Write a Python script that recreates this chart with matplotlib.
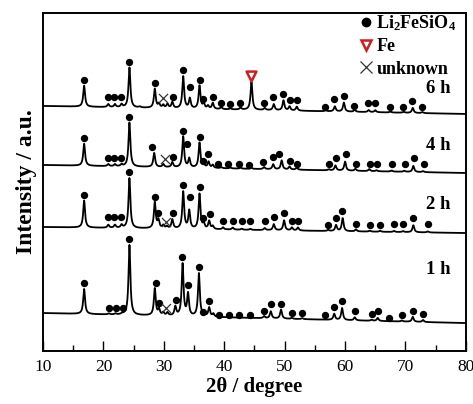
import numpy as np
import matplotlib
matplotlib.use("Agg")
import matplotlib.pyplot as plt
from matplotlib.lines import Line2D

plt.rcParams['font.family'] = ['Liberation Serif', 'DejaVu Serif']
plt.rcParams['mathtext.fontset'] = 'custom'
plt.rcParams['mathtext.rm'] = 'Liberation Serif:bold'
plt.rcParams['mathtext.bf'] = 'Liberation Serif:bold'
plt.rcParams['mathtext.it'] = 'Liberation Serif:bold:italic'

# samples, bottom to top
samples = ["1 h", "2 h", "4 h", "6 h"]
offsets = [91, 177, 239, 298]     # baseline at 10 deg
drops = [10, 6, 8, 8]              # baseline fall to 80 deg
label_y = [135, 200, 258, 315]

# peaks (2theta, height above baseline)
peaks_1h = [(16.8, 25), (20.9, 1), (22.0, 1), (23.1, 1), (24.3, 70), (28.5, 27),
            (29.2, 6), (29.9, 3), (30.6, 3), (31.9, 9), (33.1, 52), (34.0, 22),
            (35.8, 43), (36.6, 3), (37.5, 9), (38.2, 3), (46.6, 2), (47.7, 7),
            (49.4, 9), (51.2, 1), (52.9, 1), (58.2, 6), (59.5, 12), (61.6, 3),
            (64.4, 1), (65.4, 3), (69.4, 1), (71.2, 5), (72.9, 2)]
peaks_2h = [(16.8, 27), (20.8, 3), (21.9, 3), (23.0, 3), (24.3, 50), (28.5, 26),
            (29.1, 8), (29.9, 3), (30.5, 2), (31.4, 9), (33.2, 37), (34.2, 18),
            (35.9, 35), (36.6, 5), (37.5, 8), (38.1, 3), (39.8, 2), (41.4, 2),
            (42.9, 1), (44.3, 1), (46.7, 2), (48.2, 6), (49.9, 10), (51.2, 3),
            (52.2, 3), (57.2, 1), (58.5, 6), (59.6, 13), (61.8, 2), (64.1, 1),
            (65.8, 1), (68.1, 1), (69.6, 1), (71.3, 7), (73.7, 1)]
peaks_4h = [(16.8, 22), (20.8, 2), (21.9, 2), (23.0, 2), (24.3, 44), (28.4, 14),
            (29.9, 3), (31.4, 5), (33.2, 31), (34.2, 9), (35.9, 25), (36.6, 4),
            (37.4, 6), (38.1, 3), (39.5, 1), (41.0, 1), (42.7, 1), (44.5, 1),
            (46.6, 2), (48.1, 5), (49.5, 9), (50.8, 3), (52.0, 2), (57.3, 1),
            (58.4, 5), (60.0, 9), (61.7, 2), (64.0, 2), (65.2, 1), (67.7, 1),
            (69.8, 1), (71.3, 6), (72.9, 1)]
peaks_6h = [(16.8, 21), (20.8, 3), (21.9, 3), (23.0, 3), (24.3, 40), (26.0, 1),
            (28.5, 19), (29.2, 4), (29.9, 3), (30.6, 4), (31.4, 6), (33.2, 32),
            (34.3, 10), (35.9, 23), (36.6, 5), (37.3, 3), (38.1, 6), (39.5, 2),
            (41.0, 1), (42.7, 2), (44.5, 28), (46.7, 2), (48.2, 6), (49.8, 10),
            (50.8, 4), (52.0, 4), (56.8, 1), (58.3, 5), (59.8, 9), (61.6, 2),
            (63.9, 2), (65.0, 2), (67.5, 1), (69.7, 1), (71.2, 5), (72.8, 1)]
peaks = [peaks_1h, peaks_2h, peaks_4h, peaks_6h]

# Li2FeSiO4 markers (2theta, height above baseline)
dots_1h = [(16.8, 31), (20.9, 7), (22.1, 7), (23.2, 7), (24.2, 76), (28.7, 33),
           (29.2, 13), (32.0, 16), (33.0, 59), (34.0, 31), (35.8, 50), (36.5, 5),
           (37.5, 16), (39.1, 2), (40.8, 2), (42.5, 3), (44.2, 3), (46.6, 7),
           (47.7, 14), (49.4, 15), (51.2, 6), (52.9, 6), (56.7, 5), (58.2, 13),
           (59.5, 19), (61.6, 9), (64.4, 7), (65.4, 10), (67.3, 3), (69.4, 7),
           (71.2, 11), (72.9, 8)]
dots_2h = [(16.8, 33), (20.7, 11), (21.8, 11), (22.9, 11), (24.2, 56), (28.6, 32),
           (29.0, 16), (31.5, 16), (33.2, 44), (34.3, 32), (36.0, 42), (36.5, 11),
           (37.6, 15), (39.8, 9), (41.4, 9), (42.9, 9), (44.3, 9), (46.7, 9),
           (48.2, 13), (49.9, 17), (51.2, 10), (52.2, 10), (57.2, 6), (58.5, 13),
           (59.5, 20), (61.8, 7), (64.1, 7), (65.8, 7), (68.1, 8), (69.6, 8),
           (71.3, 14), (73.7, 8)]
dots_4h = [(16.8, 28), (20.7, 8), (21.8, 8), (22.9, 8), (24.2, 50), (28.1, 20),
           (31.5, 10), (33.2, 37), (33.8, 24), (36.0, 31), (36.5, 7), (37.3, 14),
           (39.0, 4), (40.6, 4), (42.4, 5), (44.1, 4), (46.4, 7), (48.1, 12),
           (49.1, 15), (50.9, 9), (52.0, 6), (57.3, 6), (58.5, 13), (60.1, 17),
           (61.8, 7), (64.1, 7), (65.3, 7), (67.8, 8), (69.9, 8), (71.4, 14),
           (73.0, 8)]
dots_6h = [(16.8, 27), (20.7, 10), (21.8, 10), (22.9, 10), (24.2, 46), (28.6, 25),
           (31.5, 11), (33.2, 39), (34.3, 22), (36.0, 29), (36.5, 10), (38.1, 12),
           (39.4, 6), (41.0, 6), (42.6, 7), (46.6, 7), (48.1, 13), (49.7, 17),
           (50.8, 11), (52.0, 11), (56.7, 4), (58.2, 12), (59.8, 16), (61.5, 6),
           (63.8, 9), (64.9, 9), (67.4, 6), (69.6, 6), (71.1, 12), (72.7, 6)]
dots = [dots_1h, dots_2h, dots_4h, dots_6h]

# unknown phase (x) and Fe marker
unknown = [(30.4, 8), (30.4, 7), (30.2, 8), (29.9, 10)]
fe_6h = (44.4, 34)

tt = np.arange(10, 80.001, 0.02)
width = 0.18


def baseline(x, off, drop):
    return off - drop * (np.asarray(x) - 10) / 70.0


fig = plt.figure(figsize=(4.73, 4.04), dpi=100)
ax = fig.add_axes([0.091, 0.131, 0.894, 0.837])

for i, name in enumerate(samples):
    y = baseline(tt, offsets[i], drops[i])
    for p, h in peaks[i]:
        y = y + h / (1 + ((tt - p) / width) ** 2)
    ax.plot(tt, y, color='black', lw=1.3, zorder=2)

    dx = np.array([d[0] for d in dots[i]])
    dy = np.array([d[1] for d in dots[i]]) + baseline(dx, offsets[i], drops[i])
    ax.scatter(dx, dy, s=28, color='black', zorder=3, linewidths=0)

    ux, uh = unknown[i]
    ax.scatter([ux], [uh + baseline(ux, offsets[i], drops[i])], marker='x',
               s=42, color='#333333', linewidths=0.9, zorder=3)

    ax.text(75.4, label_y[i], name, ha='center', va='center',
            fontsize=13.5, fontweight='bold')

fx, fh = fe_6h
ax.scatter([fx], [fh + baseline(fx, offsets[3], drops[3])], marker='v', s=50,
           facecolor='white', edgecolor='#cc1e1e', linewidths=1.8, zorder=3)

handles = [
    Line2D([], [], ls='none', marker='o', ms=6, mfc='black', mec='black'),
    Line2D([], [], ls='none', marker='v', ms=7, mfc='white', mec='#cc1e1e', mew=1.8),
    Line2D([], [], ls='none', marker='x', ms=8, mec='#333333', mew=0.9),
]
labels = ["Li$_{2}$FeSiO$_{4}$", "Fe", "unknown"]
ax.legend(handles, labels, loc='upper right', bbox_to_anchor=(0.982, 1.005),
          frameon=False, prop={'weight': 'bold', 'size': 13}, handlelength=0.6,
          handletextpad=0.3, labelspacing=0.3, borderaxespad=0.0,
          borderpad=0.1)

ax.set_xlim(10, 80)
ax.set_ylim(53, 391)
ax.set_xticks(np.arange(10, 81, 10))
ax.set_xticks(np.arange(15, 80, 10), minor=True)
ax.tick_params(axis='x', which='major', direction='in', length=7, width=1.0,
               labelsize=12.5, pad=6)
ax.tick_params(axis='x', which='minor', direction='in', length=4, width=1.0)
ax.set_yticks([])
for s in ax.spines.values():
    s.set_linewidth(1.4)

ax.set_xlabel("2θ / degree", fontsize=15, fontweight='bold', labelpad=1)
ax.set_ylabel("Intensity / a.u.", fontsize=17, fontweight='bold', labelpad=4)

fig.savefig("out.png", dpi=100)
